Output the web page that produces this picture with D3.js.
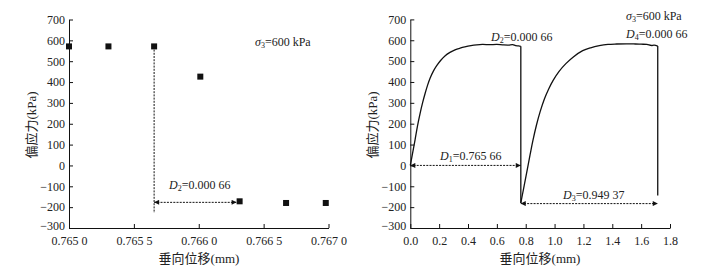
<!DOCTYPE html>
<html>
<head>
<meta charset="utf-8">
<script src="https://cdn.jsdelivr.net/npm/d3@7/dist/d3.min.js"></script>
<style>
  body { margin: 0; background: #fff; }
  svg text { font-family: "Liberation Serif", "Noto Sans CJK SC", serif; fill: #222; }
</style>
</head>
<body>
<svg id="chart" width="706" height="268"></svg>
<script>
// left panel: zoomed scatter around the first jump
const leftX = [0.765000, 0.765304, 0.765656, 0.766012, 0.766315, 0.766673, 0.766979];
const leftY = [571, 571, 571, 426, -172, -180, -180];
const leftTicksX = [0.7650, 0.7655, 0.7660, 0.7665, 0.7670];

// right panel: two loading branches, each followed by a vertical drop
const riseX1 = [0, 0.015, 0.033, 0.05, 0.068, 0.085, 0.103, 0.12, 0.137, 0.16, 0.183, 0.21, 0.24, 0.275,
  0.31, 0.345, 0.378, 0.42, 0.46, 0.5, 0.55, 0.6, 0.64, 0.68, 0.71, 0.73, 0.75, 0.766];
const riseY1 = [0, 55, 123, 190, 250, 300, 346, 385, 418, 452, 478, 503, 525, 542,
  554, 562, 568, 574, 578, 580, 579, 580, 578, 577, 579, 574, 573, 571];
const riseX2 = [0.766, 0.785, 0.805, 0.83, 0.85, 0.875, 0.9, 0.93, 0.96, 0.99, 1.03, 1.08, 1.13, 1.195,
  1.25, 1.31, 1.37, 1.43, 1.5, 1.56, 1.6, 1.64, 1.67, 1.69, 1.715];
const riseY2 = [-180, -112, -40, 50, 120, 195, 258, 320, 368, 408, 450, 489, 520, 550,
  564, 574, 580, 582, 583, 582, 581, 580, 575, 577, 572];
const dropEndY = [-180, -144];
const rightTicksX = [0, 0.2, 0.4, 0.6, 0.8, 1.0, 1.2, 1.4, 1.6, 1.8];
const ticksY = [-300, -200, -100, 0, 100, 200, 300, 400, 500, 600, 700];

// annotation values
const dist1 = 0.76566, dist3 = 0.94937;
const jumpY = -183;

const svg = d3.select('#chart');

// arrow marker
const defs = svg.append('defs');
['end', 'start'].forEach(function(k) {
  defs.append('marker')
    .attr('id', 'arr-' + k)
    .attr('viewBox', '0 0 10 10')
    .attr('refX', k === 'end' ? 10 : 0).attr('refY', 5)
    .attr('markerWidth', 7).attr('markerHeight', 5)
    .attr('markerUnits', 'userSpaceOnUse')
    .attr('orient', 'auto')
    .append('path')
    .attr('d', k === 'end' ? 'M0,0L10,5L0,10Z' : 'M10,0L0,5L10,10Z')
    .attr('fill', '#111');
});

function drawAxes(g, x, y, ticksX, fmtX, cx) {
  g.append('g')
    .attr('transform', `translate(0,${y(-300)})`)
    .call(d3.axisBottom(x).tickValues(ticksX).tickFormat(fmtX).tickSizeInner(-4).tickSizeOuter(0).tickPadding(8))
    .call(a => a.selectAll('text').attr('font-size', 12).attr('font-family', null))
    .call(a => a.selectAll('line,path').attr('stroke', '#111'));

  g.append('g')
    .attr('transform', `translate(${x.range()[0]},0)`)
    .call(d3.axisLeft(y).tickValues(ticksY).tickSizeInner(-4).tickSizeOuter(0).tickPadding(4))
    .call(a => a.selectAll('text').attr('font-size', 12).attr('font-family', null)
      .attr('y', d => d === -300 ? -2 : 0))
    .call(a => a.selectAll('line,path').attr('stroke', '#111'));

  g.append('text')
    .attr('x', cx).attr('y', 263)
    .attr('text-anchor', 'middle').attr('font-size', 13)
    .text('垂向位移(mm)');
}

function yTitle(g, x) {
  g.append('text')
    .attr('transform', `translate(${x},125) rotate(-90)`)
    .attr('text-anchor', 'middle').attr('font-size', 13)
    .text('偏应力(kPa)');
}

function label(g, x, y, sym, sub, rest) {
  const t = g.append('text').attr('x', x).attr('y', y).attr('font-size', 12);
  t.append('tspan').attr('font-style', 'italic').text(sym);
  t.append('tspan').attr('font-size', 8).attr('dy', 2).text(sub);
  t.append('tspan').attr('dy', -2).text(rest);
}

function arrow(g, x1, x2, yy) {
  g.append('line')
    .attr('x1', x1).attr('x2', x2).attr('y1', yy).attr('y2', yy)
    .attr('stroke', '#111').attr('stroke-width', 1)
    .attr('stroke-dasharray', '2,1.2')
    .attr('marker-start', 'url(#arr-start)')
    .attr('marker-end', 'url(#arr-end)');
}

// ---------- left panel ----------
const gL = svg.append('g');
const xL = d3.scaleLinear().domain([0.765, 0.767]).range([69, 328.5]);
const yL = d3.scaleLinear().domain([-300, 700]).range([228, 19.5]);
const fmtL = d => d3.format('.4f')(d).replace(/(\d)$/, ' $1');
drawAxes(gL, xL, yL, leftTicksX, fmtL, 199);
yTitle(gL, 36);

gL.append('line')
  .attr('x1', xL(leftX[2])).attr('x2', xL(leftX[2]))
  .attr('y1', yL(leftY[2])).attr('y2', yL(-228))
  .attr('stroke', '#111').attr('stroke-dasharray', '2,1.2');

arrow(gL, xL(leftX[2]), xL(leftX[4]) - 3, yL(-177));

gL.selectAll('rect.pt')
  .data(leftX.map((d, i) => [d, leftY[i]]))
  .join('rect')
  .attr('class', 'pt')
  .attr('x', d => xL(d[0]) - 3).attr('y', d => yL(d[1]) - 3)
  .attr('width', 6).attr('height', 6)
  .attr('fill', '#111');

label(gL, 169, 189, 'D', '2', '=0.000 66');
label(gL, 255, 46, 'σ', '3', '=600 kPa');

// ---------- right panel ----------
const gR = svg.append('g');
const xR = d3.scaleLinear().domain([0, 1.8]).range([410.3, 670]);
const yR = d3.scaleLinear().domain([-300, 700]).range([228, 19.4]);
drawAxes(gR, xR, yR, rightTicksX, d3.format('.1f'), 540);
yTitle(gR, 377);

const smooth = d3.line().x(d => xR(d[0])).y(d => yR(d[1])).curve(d3.curveCatmullRom.alpha(0.5));
const straight = d3.line().x(d => xR(d[0])).y(d => yR(d[1]));
const rises = [[riseX1, riseY1], [riseX2, riseY2]];

rises.forEach(function(r, k) {
  const pts = r[0].map((d, i) => [d, r[1][i]]);
  const last = pts[pts.length - 1];
  gR.append('path')
    .attr('fill', 'none').attr('stroke', '#111').attr('stroke-width', 1.3)
    .attr('d', smooth(pts));
  gR.append('path')
    .attr('fill', 'none').attr('stroke', '#111').attr('stroke-width', 1.3)
    .attr('d', straight([last, [last[0], dropEndY[k]]]));
});

arrow(gR, xR(0), xR(dist1), yR(0));
arrow(gR, xR(dist1), xR(dist1 + dist3), yR(jumpY));

label(gR, 440, 160, 'D', '1', '=0.765 66');
label(gR, 563, 199, 'D', '3', '=0.949 37');
label(gR, 491, 41, 'D', '2', '=0.000 66');
label(gR, 626, 20, 'σ', '3', '=600 kPa');
label(gR, 626, 38, 'D', '4', '=0.000 66');
</script>
</body>
</html>
